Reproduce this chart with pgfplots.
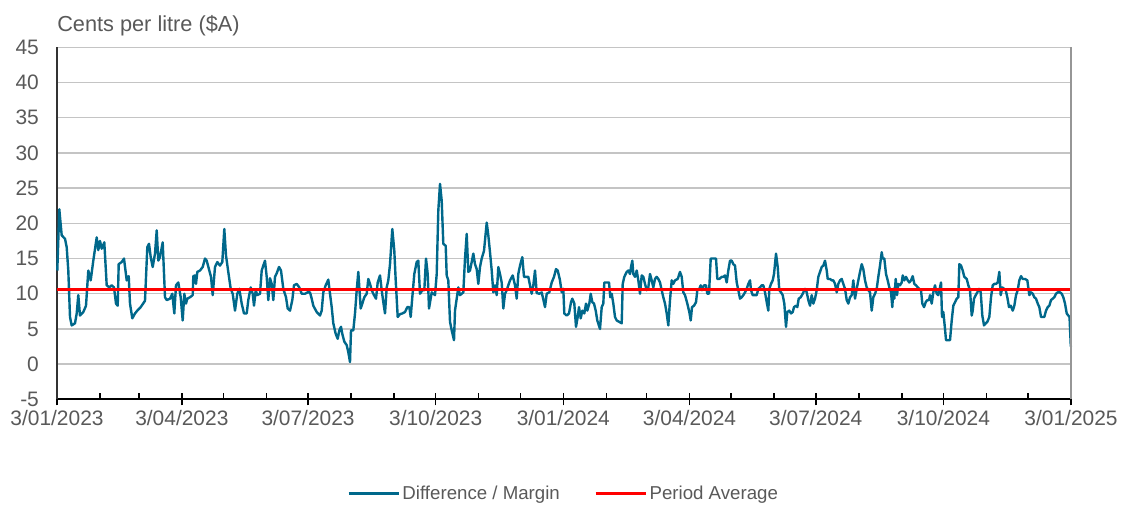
\documentclass[border=0pt]{standalone}
\usepackage{pgfplots}
\pgfplotsset{compat=1.18}
\usepackage{pgfplotstable}
\usepackage{fontspec}
\setmainfont{Liberation Sans}
\definecolor{serblue}{RGB}{0,104,139}
\definecolor{txtgray}{RGB}{89,89,89}
\definecolor{gridgray}{RGB}{196,196,196}
\definecolor{boxgray}{RGB}{150,150,150}
% px = horizontal position (57 = 3/01/2023, 1071 = 3/01/2025), v = cents per litre
\pgfplotstableread{
px v
57.3 13.3
59.3 22
61.7 18.3
65 17.8
66.7 16.6
68.3 13.3
70 6.7
71.7 5.5
75 5.8
76.7 7.2
78.3 9.8
80 6.9
83.3 7.4
86 8.3
88.3 13.3
90.7 11.9
93.3 14.7
96.7 18
98.3 16.2
100 17.5
101.7 16.4
104.3 17.3
106.7 11.2
109.3 10.9
111.7 11.2
114 10.9
116 8.6
117.7 8.3
118.7 14.2
121.7 14.5
124 15
126.7 11.9
128.7 12.5
130 8.6
132.3 6.5
135 7.2
137.3 7.6
140.7 8.1
145 9
147.3 16.6
149 17.1
150.7 15.2
152.7 13.8
155 15.7
156.7 19
158.3 14.7
160 15.2
162.7 17.3
165 9.5
166.7 9.1
170 9.3
172.3 10
174.3 7.2
176 11.2
178.3 11.6
180.7 9.5
182.7 6.2
184.3 10
186 8.6
187.3 9.3
190 9.5
192.7 9.8
193.3 12.5
195 12.6
196 11.4
197.3 13.1
200 13.3
202.7 13.8
205 15
206.7 14.7
209.3 13.3
211 12.4
212.7 9.8
215 13.8
217.3 14.5
220 14
222.3 14.5
224.3 19.2
226 15.4
228.3 13.1
230.7 10.7
232.7 10
235 7.6
237.3 10
239.3 10.7
241.7 8.6
244 7.2
246.7 7.2
248.3 9.1
250.7 10.9
252.7 10
254 8.3
255.7 10.5
257.3 9.8
260 10
261.7 13.3
263.3 14
265 14.7
266.7 12.4
268.3 9.1
270 12.2
271.7 11.4
273.3 9.1
275 12.4
276.7 12.9
279 13.8
281 13.3
283.3 10.7
286 9.5
287.7 7.9
290 7.6
292.3 9.1
294 11.2
296.7 11.4
299.3 10.9
301.7 10
305 10
307.7 10.2
310 10.2
311.7 9.3
313.3 8.3
316.7 7.4
320 6.9
321.7 7.6
323.3 10.2
325.7 11.2
328.3 12
330 10
331.7 8.1
333.3 5.8
335.7 4.3
337.7 3.6
339.3 4.8
341 5.3
342.3 4.3
344.3 3.2
346.7 2.7
348.3 1.7
350 0.3
351 4.8
353.3 4.8
355 7.2
356.7 10.5
358.3 13.1
360.7 7.9
362.3 8.6
364.3 9.5
366.7 10
368.3 12.1
370 11.4
371.7 10.5
374 9.8
376 9.3
377.7 11.6
380 12.6
381.7 10.5
383.3 8.8
385 7.2
386.7 10.9
388.3 11.9
390 14.2
392.3 19.2
394.3 16.1
395.7 11.9
397.7 6.7
400 7.1
402.3 7.2
405 7.4
407.3 8.1
409.3 8.1
410.7 6.7
412.3 9.5
414.3 12.8
416.7 14.5
418.3 14.7
420 10
422.3 10.5
424.3 10.5
426 15
427.7 12.8
429 7.9
431.7 10.2
433.3 10
435 9.8
436.7 12.8
438.3 21.8
440 25.6
441.7 23.2
443.3 17.1
445.7 16.8
446.7 12.6
448.3 11.9
450 6
451.7 4.8
454 3.4
455 7.6
456.7 9.3
458.3 10.9
460 9.8
461.7 10
463.3 10.2
465 15
466.7 18.5
468.3 13.1
470 13.3
471.7 14.5
473.3 15.7
475 14.2
476.7 13.5
478.3 11.4
480 13.8
481.7 15
484 16.1
486.7 20.1
488.3 18.3
490 15.9
491.7 13.3
493.3 10.2
495 11.2
496.7 9.8
498.3 13.8
500 12.8
501.7 11.6
503.3 7.9
505 10
506.7 10.5
508.3 11.2
510 11.9
512.7 12.6
515 11.2
516.7 9.3
518.3 12.8
520 14
522.3 15.2
524 12.4
526 12.4
528.3 12.4
530 11.2
531.7 10
533.3 11.2
535 13.3
536.7 10.1
539.3 10
541.7 10.2
545 8.1
546.7 10
549.3 10.2
551.7 11.6
554 12.4
556 13.5
557.7 13.3
560 11.9
561.7 10.2
563.3 10.7
564.3 7.2
566.7 6.9
569 7.2
571 8.8
572.3 9.3
574.3 8.6
576 5.3
577.7 6.7
579 8.1
580.7 6.5
582.3 7.6
584.3 7.2
586 8.6
587.3 7.6
589.3 8.6
590.7 10
592.3 8.8
594 8.6
595.7 7.6
597.3 6.2
600 5
601.7 8.1
603.3 8.6
604.3 11.6
606.7 11.6
609 11.6
610.3 9.5
611.7 10
613.3 8.6
615 6.7
616.7 6.2
619.3 6
621.7 5.8
622.7 11.4
624.3 12.4
626.7 13.1
628.3 13.3
630 12.8
631 13.8
632.3 14.7
633.3 12.8
635 12.4
636.7 13.3
638.3 11.9
640 10
641.7 12.6
643.3 12.4
645 11.4
646.7 10.5
648.3 10.9
650 12.8
651.7 11.9
653.3 10.9
655 12.1
656.7 12.4
658.3 12.1
660 11.6
661.7 10.5
663.3 9.5
665 8.6
666.7 7.2
668.3 5.5
670 9.1
671.7 11.9
673.3 11.4
675 11.9
677.7 12.1
680 13.1
681.7 12.4
683.3 10.2
685 9.8
687.3 8.6
689.3 7.4
690.7 6.2
692 8.1
694 8.3
696 8.8
697.3 10.5
699.3 10.7
700.7 11.2
702 10.5
704 11.2
706 11.2
707.3 10
709 10
710.7 15
713.3 15
716 15
717.3 12.1
719.3 12.1
721.7 12.4
723.3 12.4
725 12.6
726.7 11.6
728.3 13.3
730 14.7
731.7 14.7
733.3 14.2
735 14
736.7 11.6
738.3 10.5
740 9.3
741.7 9.5
743.3 9.8
745 10.2
746.7 10.7
748.3 11.4
750 11.9
751 10.5
752.7 9.8
755 9.8
756.7 9.8
758.3 10.7
760 10.9
761.7 11.2
763.3 11.2
765 10.2
766.7 8.8
768.3 7.6
769.3 10.7
771 11.4
772.7 11.9
774 12.8
776 15.7
777.7 13.8
779.3 10.5
781 10.2
782.7 9.8
784.3 8.6
786 5.3
787.3 7.4
789.3 7.6
791 7.2
792.7 7.4
794 8.1
796 8.3
797.3 8.1
798.7 9.3
800.7 9.5
802.7 10
804.3 10.5
805 10.7
806.7 10.2
808.3 9.1
810 8.3
811.7 9.8
813.3 8.6
815 9.3
816.7 10.5
818.3 12.4
820 13.1
821.7 13.8
823.3 14
825 14.7
826.7 13.3
827.7 12.1
830 12.1
831.7 11.9
833.3 11.9
835 11.4
836.7 10.2
838.3 11.4
840 11.9
841.7 12.1
843.3 11.4
845 10.7
846.7 9.1
848.3 8.6
850 9.5
851.7 9.8
853.3 11.9
855 9.3
856.7 10.7
858.3 11.9
860 13.1
861.7 14.2
863.3 13.5
865 11.9
866.7 10.9
868.3 10.5
870 10.2
871.7 7.6
873.3 9.5
875 10
876.7 10.7
878.3 12.4
880 14
881.7 15.9
882.7 15
884.3 15
886 12.8
887.7 11.9
889.3 10.9
891 10.2
892.3 8.1
893.3 10.7
894.3 9.3
895.7 12.1
897 9.8
898.3 11.4
900 11.2
901.7 11.6
902.7 12.6
904.3 11.9
906 12.4
907.7 11.9
909.3 11.6
911 11.9
912.7 12.5
914.3 11.4
916 11.2
917.7 10.9
919.3 10.7
921 10.5
922.3 8.6
924 8.1
925.7 8.8
927.3 9.1
929 9.1
930 9.8
931.7 8.6
933.3 10.2
935 11.2
936.7 10
938.3 9.8
940 10.9
941 11.6
942 6.7
943.3 7.4
945 5
946 3.4
948.3 3.4
950 3.4
951.7 6.2
953.3 8.3
955 8.8
956.7 9.3
958.3 9.5
959.3 14.2
961 14
962.7 13.3
964.3 12.4
966.7 12.1
968.3 11.2
970 10.5
971.7 6.9
972.7 7.6
974 9.3
975.7 9.8
977.3 10.2
979 10.7
980.7 10.2
982.3 6.9
984 5.5
985.7 5.8
987.3 6
989.3 6.7
991 9.5
992.7 11.2
994.3 11.4
996 11.4
997.7 11.6
999.3 13.1
1000.7 9.8
1002.3 10.9
1004 10.7
1005.7 10.5
1007.3 9.5
1009 8.1
1010.7 8.3
1012.7 7.6
1014.3 8.3
1016 9.8
1017.7 10.5
1019.3 11.9
1021 12.5
1022.7 12.1
1025 12.1
1027.3 11.9
1029.3 9.8
1031 10.2
1032.7 10
1034.3 9.5
1036 9.3
1037.7 8.6
1039.3 8.1
1041 6.7
1042.7 6.7
1044.3 6.7
1046 7.6
1047.7 8.1
1049.3 8.3
1051 9.1
1052.7 9.3
1054.3 9.5
1056 10
1057.7 10.2
1060 10.2
1061.7 10
1063.3 9.5
1065 8.6
1066.7 7.2
1068.3 6.9
1069.5 6.7
1070.8 2.5
}\margintable

\begin{document}
\begin{tikzpicture}
\begin{axis}[
  name=ax,
  at={(0pt,0pt)}, anchor=south west,
  scale only axis,
  width=760.5pt, height=264pt,
  xmin=0, xmax=731, ymin=-5, ymax=45,
  axis x line*=bottom, axis y line*=left,
  x axis line style={black, line width=1.5pt},
  y axis line style={black!80, line width=1.2pt},
  xtick={0,90,181,273,365,456,547,639,731},
  xticklabels={3/01/2023,3/04/2023,3/07/2023,3/10/2023,3/01/2024,3/04/2024,3/07/2024,3/10/2024,3/01/2025},
  extra x ticks={31,59,120,151,212,243,304,334,396,425,486,517,578,609,670,700},
  extra x tick labels={},
  extra x tick style={tick align=inside, major tick length=4.5pt, grid=none},
  xtick pos=bottom,
  tick align=center,
  major tick length=9.2pt,
  x tick style={black, line width=1.1pt},
  ytick={-5,0,...,45},
  y tick style={draw=none},
  ymajorgrids,
  grid style={gridgray, line width=1.1pt},
  tick label style={font=\fontsize{15.7pt}{18pt}\selectfont, text=txtgray},
  /pgf/number format/assume math mode=true,
  yticklabel style={anchor=east, inner sep=0pt, xshift=-8.8pt},
  xticklabel style={anchor=north, inner sep=0pt, yshift=-3.8pt},
  legend style={at={(0.5,-0.267)}, anchor=center, draw=none, fill=none,
    font=\fontsize{14pt}{16pt}\selectfont, text=txtgray,
    legend columns=2,
    /tikz/every odd column/.append style={inner xsep=4pt},
    /tikz/every even column/.append style={column sep=24pt}},
  legend image code/.code={\draw[#1] (0pt,0pt) -- (37.5pt,0pt);},
  clip=false,
]
\addplot[serblue, line width=1.8pt, line join=round] table[x expr={(\thisrow{px}-57)*0.72091}, y=v] {\margintable};
\addlegendentry{Difference / Margin}
\addplot[red, line width=1.8pt] coordinates {(0,10.6) (731,10.6)};
\addlegendentry{Period Average}
\end{axis}
\draw[boxgray, line width=1.1pt] (ax.north east) -- (ax.south east);
\node[anchor=base west, inner sep=0pt, text=txtgray, font=\fontsize{16.3pt}{19pt}\selectfont] at ([yshift=11.5pt]ax.north west) {Cents per litre (\$A)};
\pgfresetboundingbox
\path[use as bounding box] ([shift={(-42.75pt,-78.5pt)}]ax.south west) rectangle ++(844.5pt,378pt);
\end{tikzpicture}
\end{document}
